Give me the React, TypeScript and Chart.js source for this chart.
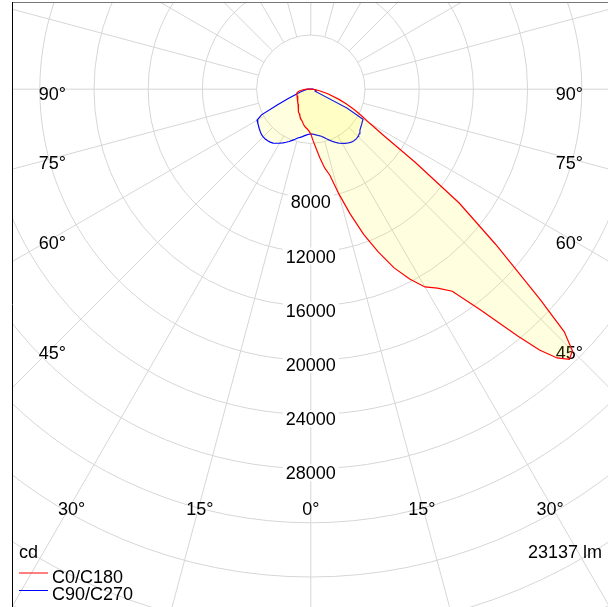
import React, { useEffect, useRef } from "react";
import { Chart, registerables } from "chart.js";

Chart.register(...registerables);

// ---------- data ----------
// vertical angles (gamma, degrees from nadir)
const GAMMA = [
  0, 2.5, 5, 7.5, 10, 12.5, 15, 17.5, 20, 22.5, 25, 27.5, 30, 32.5, 35, 37.5, 40, 41.25, 42.5, 43.75, 45, 46.25, 47.5,
  50, 52.5, 55, 57.5, 60, 62.5, 65, 67.5, 70, 75, 80, 85, 90, 105, 120, 135, 150, 165, 180,
];

// luminous intensity, cd
const C0 = [
  3300, 3800, 4350, 5100, 5900, 6500, 8000, 9650, 11400, 13000, 14550, 15800, 16850, 17400, 18200, 20500, 23800, 25600, 26900, 27600, 27300, 25900, 22950,
  17800, 13800, 9400, 6400, 5000, 4200, 3500, 2850, 2250, 1300, 650, 300, 100, 0, 0, 0, 0, 0, 0,
];
const C180 = [
  3300, 3100, 2950, 2850, 2750, 2600, 2450, 2350, 2250, 2120, 2000, 1900, 1800, 1700, 1600, 1520, 1450, 1425, 1400, 1375, 1350, 1325, 1300,
  1250, 1220, 1180, 1150, 1130, 1120, 1120, 1110, 1100, 1050, 930, 650, 300, 0, 0, 0, 0, 0, 0,
];
const C90 = [
  3300, 3320, 3360, 3420, 3480, 3560, 3680, 3830, 4000, 4170, 4330, 4480, 4620, 4740, 4840, 4920, 4960, 4965, 4970, 4950, 4930, 4890, 4850,
  4730, 4640, 4570, 4500, 4450, 3000, 400, 350, 350, 400, 350, 250, 150, 0, 0, 0, 0, 0, 0,
];
const C270 = [
  3300, 3330, 3380, 3460, 3550, 3640, 3730, 3870, 4020, 4180, 4320, 4460, 4600, 4730, 4850, 4920, 4960, 4970, 4980, 4975, 4970, 4955, 4940,
  4870, 4790, 4710, 4640, 4580, 4100, 2700, 1800, 1250, 750, 500, 350, 200, 0, 0, 0, 0, 0, 0,
];

const RING_VALUES = [4000, 8000, 12000, 16000, 20000, 24000, 28000, 32000, 36000, 40000, 44000, 48000, 52000, 56000, 60000, 64000];
const RING_LABELS = [8000, 12000, 16000, 20000, 24000, 28000];
const ANGLE_LABELS = [0, 15, 30, 45, 60, 75, 90];
const SPOKE_STEP = 15;
const SERIES_NAMES = ["C0/C180", "C90/C270"];
const UNIT_TEXT = "cd";
const FLUX_TEXT = "23137 lm";

// ---------- layout / style ----------
const W = 608;
const H = 607;
const FRAME_LEFT = 12;
const FRAME_TOP = 3;
const CX = 310.8;
const CY = 89.2;
const PX_PER_CD = 0.01355;
const LABEL_SIDE = 258.5;
const LABEL_BOTTOM = 414.5;
const FONT = "18px 'Liberation Sans', Arial, sans-serif";
const GRID_COLOR = "#d6d6d6";
const RED = "#ff0000";
const BLUE = "#0000ff";
const FILL = "rgba(255,255,0,0.12)";

function polarToXY(right: number[], left: number[]) {
  const pts: { x: number; y: number }[] = [];
  for (let i = 0; i < GAMMA.length; i++) {
    const g = (GAMMA[i] * Math.PI) / 180;
    pts.push({ x: right[i] * Math.sin(g), y: -right[i] * Math.cos(g) });
  }
  for (let i = GAMMA.length - 1; i >= 0; i--) {
    const g = (GAMMA[i] * Math.PI) / 180;
    pts.push({ x: -left[i] * Math.sin(g), y: -left[i] * Math.cos(g) });
  }
  return pts;
}

const gridPlugin = {
  id: "polarGrid",
  beforeDatasetsDraw(chart: any) {
    const { ctx, chartArea } = chart;
    const xs = chart.scales.x;
    const ys = chart.scales.y;
    const cx = xs.getPixelForValue(0);
    const cy = ys.getPixelForValue(0);
    const rpx = (v: number) => xs.getPixelForValue(v) - cx;
    ctx.save();
    ctx.beginPath();
    ctx.rect(chartArea.left, chartArea.top, chartArea.right - chartArea.left, chartArea.bottom - chartArea.top);
    ctx.clip();
    ctx.strokeStyle = GRID_COLOR;
    ctx.lineWidth = 1;
    RING_VALUES.forEach((v) => {
      ctx.beginPath();
      ctx.arc(cx, cy, rpx(v), 0, Math.PI * 2);
      ctx.stroke();
    });
    const r0 = rpx(RING_VALUES[0]);
    for (let a = 0; a < 360; a += SPOKE_STEP) {
      const t = (a * Math.PI) / 180;
      const dx = Math.sin(t);
      const dy = Math.cos(t);
      ctx.beginPath();
      ctx.moveTo(cx + dx * r0, cy + dy * r0);
      ctx.lineTo(cx + dx * 2000, cy + dy * 2000);
      ctx.stroke();
    }
    // angle labels
    ctx.font = FONT;
    ctx.fillStyle = "#000";
    ctx.textAlign = "center";
    ctx.textBaseline = "alphabetic";
    ANGLE_LABELS.forEach((a) => {
      const t = (a * Math.PI) / 180;
      const s = Math.sin(t);
      const c = Math.cos(t);
      const ts = s > 1e-9 ? LABEL_SIDE / s : Infinity;
      const tb = c > 1e-9 ? LABEL_BOTTOM / c : Infinity;
      const d = Math.min(ts, tb);
      const sides = a === 0 ? [1] : [-1, 1];
      sides.forEach((sg) => {
        const x = cx + sg * d * s;
        const y = cy + d * c;
        ctx.fillText(a + "°", x, y + 11);
      });
    });
    // ring labels with white background
    RING_LABELS.forEach((v) => {
      const y = cy + rpx(v) + 10.7;
      const txt = String(v);
      const w = ctx.measureText(txt).width;
      ctx.fillStyle = "#fff";
      ctx.fillRect(cx - w / 2 - 3, y - 15, w + 6, 17);
      ctx.fillStyle = "#000";
      ctx.fillText(txt, cx, y);
    });
    ctx.restore();
  },
};

const fillPlugin = {
  id: "polarFill",
  beforeDatasetDraw(chart: any, args: any) {
    const { ctx, chartArea } = chart;
    const meta = args.meta;
    const ds = chart.data.datasets[args.index];
    ctx.save();
    ctx.beginPath();
    ctx.rect(chartArea.left, chartArea.top, chartArea.right - chartArea.left, chartArea.bottom - chartArea.top);
    ctx.clip();
    ctx.beginPath();
    meta.data.forEach((p: any, i: number) => {
      if (i === 0) ctx.moveTo(p.x, p.y);
      else ctx.lineTo(p.x, p.y);
    });
    ctx.closePath();
    ctx.fillStyle = ds.backgroundColor;
    ctx.fill();
    ctx.restore();
  },
};

const overlayPlugin = {
  id: "overlay",
  afterDraw(chart: any) {
    const { ctx, chartArea } = chart;
    ctx.save();
    // frame
    ctx.lineWidth = 1;
    ctx.strokeStyle = "#777";
    ctx.beginPath();
    ctx.moveTo(chartArea.left, chartArea.top - 0.5);
    ctx.lineTo(W, chartArea.top - 0.5);
    ctx.stroke();
    ctx.strokeStyle = "#000";
    ctx.beginPath();
    ctx.moveTo(chartArea.left + 0.5, chartArea.top - 1);
    ctx.lineTo(chartArea.left + 0.5, H);
    ctx.stroke();
    // texts
    ctx.font = FONT;
    ctx.fillStyle = "#000";
    ctx.textBaseline = "alphabetic";
    ctx.textAlign = "left";
    ctx.fillText(UNIT_TEXT, 19, 558);
    ctx.textAlign = "right";
    ctx.fillText(FLUX_TEXT, 602, 558);
    // legend
    const colors = [RED, BLUE];
    const lineY = [573, 590.5];
    const textY = [583, 600];
    SERIES_NAMES.forEach((name, i) => {
      ctx.strokeStyle = colors[i];
      ctx.beginPath();
      ctx.moveTo(19, lineY[i]);
      ctx.lineTo(48, lineY[i]);
      ctx.stroke();
      ctx.textAlign = "left";
      ctx.fillStyle = "#000";
      ctx.fillText(name, 52, textY[i]);
    });
    ctx.restore();
  },
};

export default function App() {
  const ref = useRef<HTMLCanvasElement>(null);
  useEffect(() => {
    const canvas = ref.current!;
    const chart = new Chart(canvas, {
      type: "scatter",
      data: {
        datasets: [
          {
            label: SERIES_NAMES[0],
            data: polarToXY(C0, C180),
            showLine: true,
            borderColor: RED,
            backgroundColor: FILL,
            borderWidth: 1.2,
            pointRadius: 0,
            tension: 0,
          },
          {
            label: SERIES_NAMES[1],
            data: polarToXY(C90, C270),
            showLine: true,
            borderColor: BLUE,
            backgroundColor: FILL,
            borderWidth: 1.2,
            pointRadius: 0,
            tension: 0,
          },
        ],
      },
      options: {
        responsive: false,
        animation: false,
        devicePixelRatio: 1,
        events: [],
        layout: { padding: { left: FRAME_LEFT, top: FRAME_TOP, right: 0, bottom: 0 } },
        plugins: { legend: { display: false }, tooltip: { enabled: false }, title: { display: false } },
        scales: {
          x: {
            type: "linear",
            display: false,
            min: -(CX - FRAME_LEFT) / PX_PER_CD,
            max: (W - CX) / PX_PER_CD,
          },
          y: {
            type: "linear",
            display: false,
            min: -(H - CY) / PX_PER_CD,
            max: (CY - FRAME_TOP) / PX_PER_CD,
          },
        },
      },
      plugins: [gridPlugin, fillPlugin, overlayPlugin],
    } as any);
    return () => chart.destroy();
  }, []);
  return (
    <canvas
      ref={ref}
      width={W}
      height={H}
      style={{ position: "fixed", left: 0, top: 0, display: "block", background: "#fff" }}
    />
  );
}
